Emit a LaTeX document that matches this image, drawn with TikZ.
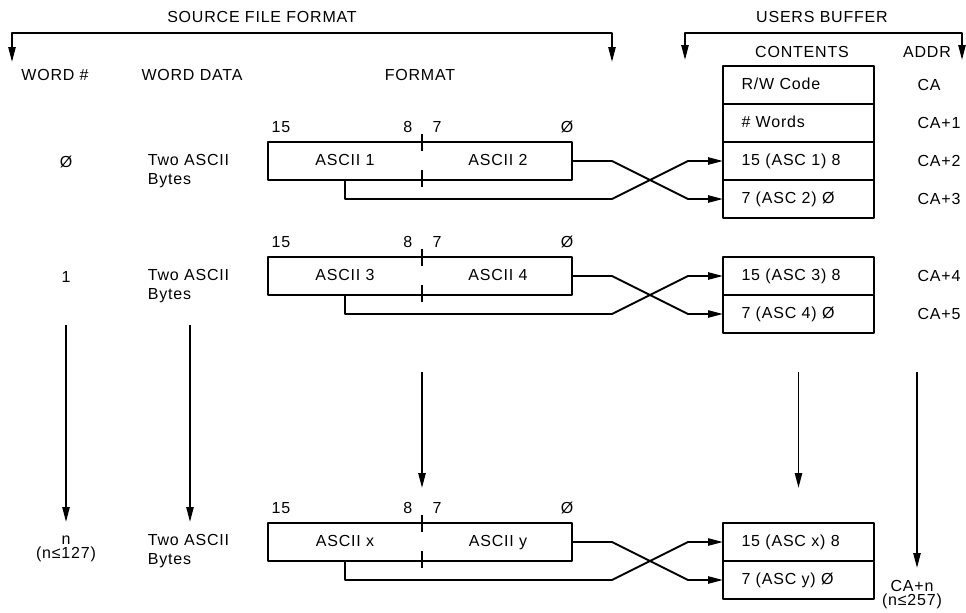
\documentclass[tikz,border=0pt]{standalone}
\usepackage{fontspec}
\setmainfont{Liberation Sans}[LetterSpace=5]
\usetikzlibrary{calc,arrows.meta,positioning}

\begin{document}
\begin{tikzpicture}[x=0.5pt,y=-0.5pt,>={Triangle[length=7.5pt,width=3.6pt]},line join=round,
  line width=0.95pt,font=\fontsize{8}{9.5}\selectfont,
  fmtbox/.style={draw,minimum width=152pt,minimum height=19pt,inner sep=0pt,outer sep=0pt},
  cell/.style={draw,minimum height=19pt,text width=57pt,inner xsep=9.25pt,inner ysep=0pt,
    align=left,outer sep=0pt,text height=6pt,text depth=2pt},
  half/.style={text height=6pt,text depth=2pt},
  data/.style={anchor=west,align=left,inner sep=0pt}]
  \useasboundingbox (0,0) rectangle (966,612);
  % brackets on top
  \node (srcttl) at (262,17) {SOURCE FILE FORMAT};
  \node (bufttl) at (822,17) {USERS BUFFER};
  \coordinate (sL) at (12,33);  \coordinate (sR) at (612,33);
  \coordinate (uL) at (685,33); \coordinate (uR) at (962,33);
  \draw[<->] ($(sL)+(0,29)$) -- (sL) -- (sR) -- ($(sR)+(0,29)$);
  \draw[<->] ($(uL)+(0,27)$) -- (uL) -- (uR) -- ($(uR)+(0,27)$);
  \node (hword) at (55,75) {WORD \#};
  \node (hdata) at (192,75) {WORD DATA};
  \node (hfmt) at (420,75) {FORMAT};
  \node (hcont) at (802,52) {CONTENTS};
  \node (haddr) at (927,52) {ADDR};

  % users buffer
  \node[cell] (rw) at (798.5,85) {R/W Code};
  \node[cell,below=0pt of rw] (nw) {\# Words};
  \node[cell,below=0pt of nw] (b02) {15 (ASC 1) 8};
  \node[cell,below=0pt of b02] (b03) {7 (ASC 2) Ø};
  \node[cell] (b12) at (798.5,276) {15 (ASC 3) 8};
  \node[cell,below=0pt of b12] (b13) {7 (ASC 4) Ø};
  \node[cell] (bn2) at (798.5,542) {15 (ASC x) 8};
  \node[cell,below=0pt of bn2] (bn3) {7 (ASC y) Ø};
  \node[anchor=west] (c0) at (910,85) {CA};
  \node[anchor=west] (c1) at (910,123) {CA+1};
  \node[anchor=west] (c2) at (910,161) {CA+2};
  \node[anchor=west] (c3) at (910,199) {CA+3};
  \node[anchor=west] (c4) at (910,276) {CA+4};
  \node[anchor=west] (c5) at (910,314) {CA+5};
  \node (cn) at (912,586) {CA+n};
  \node (cnlim) at (912,601) {(n≤257)};

  % word 0
  \node (w0) at (66,162) {Ø};
  \node[data] (d0) at (147,171) {Two ASCII\\Bytes};
  \node[fmtbox] (f0) at (420,161) {};
  \node[half] (a0) at (345,161) {ASCII 1};
  \node[half] (a1) at (498,161) {ASCII 2};
  \node[anchor=west] at (264,127) {15};
  \node[anchor=east] at (420,127) {8};
  \node[anchor=west] at (425,127) {7};
  \node at (567,127) {Ø};
  \draw ($(f0.north)+(2,-8)$) -- ($(f0.north)+(2,9)$);
  \draw ($(f0.south)+(2,-10)$) -- ($(f0.south)+(2,7)$);
  \draw[->] (f0.east) -- ++(40,0) -- ($(b03.west)+(-35,0)$) -- (b03.west);
  \draw[->] (f0.south -| a0) -- (a0 |- b03) -- ($(f0.east |- b03)+(40,0)$)
    -- ($(b02.west)+(-35,0)$) -- (b02.west);

  % word 1
  \node (w1) at (66,277) {1};
  \node[data] (d1) at (147,286) {Two ASCII\\Bytes};
  \node[fmtbox] (f1) at (420,276) {};
  \node[half] (a2) at (345,276) {ASCII 3};
  \node[half] (a3) at (498,276) {ASCII 4};
  \node[anchor=west] at (264,242) {15};
  \node[anchor=east] at (420,242) {8};
  \node[anchor=west] at (425,242) {7};
  \node at (567,242) {Ø};
  \draw ($(f1.north)+(2,-8)$) -- ($(f1.north)+(2,9)$);
  \draw ($(f1.south)+(2,-10)$) -- ($(f1.south)+(2,7)$);
  \draw[->] (f1.east) -- ++(40,0) -- ($(b13.west)+(-35,0)$) -- (b13.west);
  \draw[->] (f1.south -| a2) -- (a2 |- b13) -- ($(f1.east |- b13)+(40,0)$)
    -- ($(b12.west)+(-35,0)$) -- (b12.west);

  % word n
  \node (wn) at (66,540) {n};
  \node (wnlim) at (66,554) {(n≤127)};
  \node[data] (dn) at (147,551) {Two ASCII\\Bytes};
  \node[fmtbox] (fn) at (420,542) {};
  \node[half] (ax) at (345,542) {ASCII x};
  \node[half] (ay) at (498,542) {ASCII y};
  \node[anchor=west] at (264,508) {15};
  \node[anchor=east] at (420,508) {8};
  \node[anchor=west] at (425,508) {7};
  \node at (567,508) {Ø};
  \draw ($(fn.north)+(2,-8)$) -- ($(fn.north)+(2,9)$);
  \draw ($(fn.south)+(2,-10)$) -- ($(fn.south)+(2,7)$);
  \draw[->] (fn.east) -- ++(40,0) -- ($(bn3.west)+(-35,0)$) -- (bn3.west);
  \draw[->] (fn.south -| ax) -- (ax |- bn3) -- ($(fn.east |- bn3)+(40,0)$)
    -- ($(bn2.west)+(-35,0)$) -- (bn2.west);

  % continuation arrows
  \coordinate (v0) at (66,325);  \coordinate (v1) at (190,325);
  \coordinate (v2) at (422,372); \coordinate (v3) at (798.5,372);
  \coordinate (v4) at (917,372);
  \draw[->] (v0) -- (v0 |- 0,522);
  \draw[->] (v1) -- (v1 |- 0,522);
  \draw[->] (v2) -- (v2 |- 0,488);
  \draw[->] (v3) -- (v3 |- 0,488);
  \draw[->] (v4) -- (v4 |- 0,568);
\end{tikzpicture}
\end{document}
